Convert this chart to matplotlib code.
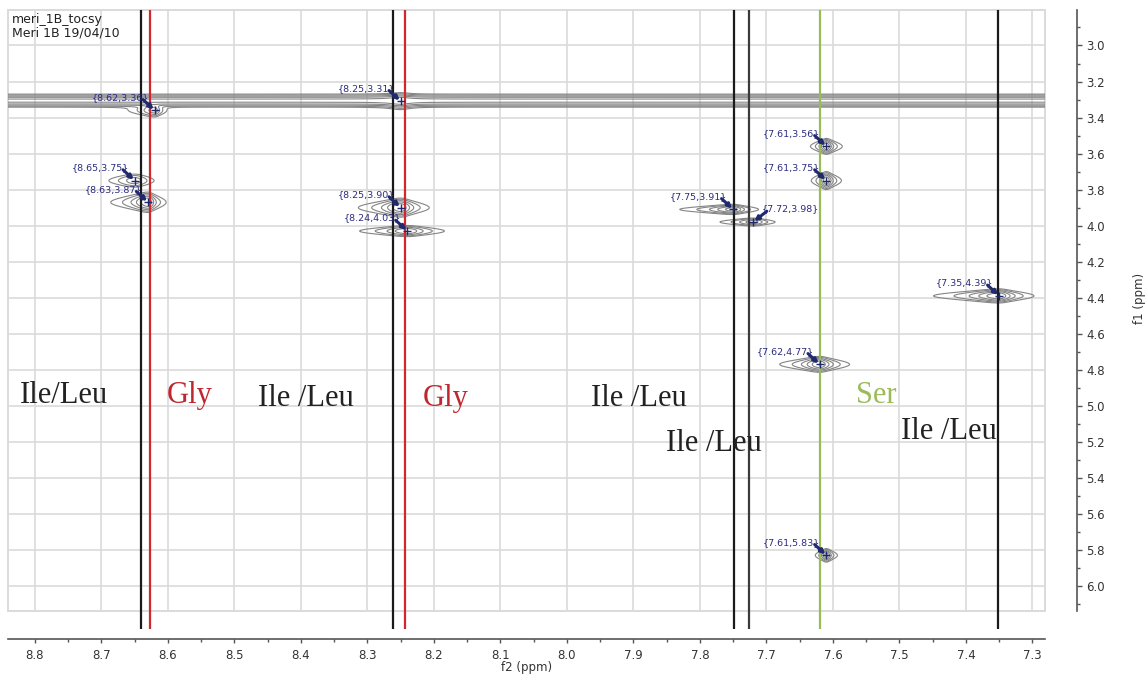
import numpy as np
import matplotlib
matplotlib.use("Agg")
import matplotlib.pyplot as plt
from matplotlib.patches import Rectangle
from matplotlib.ticker import MultipleLocator, FormatStrFormatter

# ---- cross peaks: (f2, f1) in ppm with relative intensity ----
peak_f2 = [8.62, 8.65, 8.63, 8.25, 8.25, 8.24, 7.75, 7.72, 7.61, 7.61, 7.35, 7.62, 7.61]
peak_f1 = [3.36, 3.75, 3.87, 3.31, 3.90, 4.03, 3.91, 3.98, 3.56, 3.75, 4.39, 4.77, 5.83]
peak_amp = [0.5, 0.3, 1.0, 0.4, 1.0, 0.6, 0.8, 0.5, 1.0, 1.0, 1.0, 1.0, 0.8]
# line widths (ppm): f2 downfield half, f2 upfield half, f1
width_f2_down = [0.013, 0.0174, 0.0128, 0.016, 0.0145, 0.0217, 0.0207, 0.0167,
                 0.0055, 0.0052, 0.0227, 0.0138, 0.0043]
width_f2_up = [0.006, 0.013, 0.0062, 0.013, 0.0097, 0.0168, 0.0098, 0.011,
               0.0055, 0.0052, 0.012, 0.0103, 0.0043]
width_f1 = [0.017, 0.019, 0.023, 0.022, 0.0216, 0.0138, 0.012, 0.0103,
            0.018, 0.0204, 0.016, 0.018, 0.016]
label_side = ["left"] * 7 + ["right"] + ["left"] * 5

# t1 noise ridge running across the whole f2 range
ridge_f1 = 3.306
ridge_amp = 0.7
ridge_width = 0.0157

# amide assignment lines
assign_f2 = [8.641, 8.627, 8.261, 8.244, 7.749, 7.726, 7.620, 7.352]
assign_color = ["#1a1a1a", "#d0282e", "#1a1a1a", "#d0282e",
                "#1a1a1a", "#3a3a3a", "#9bbb59", "#1a1a1a"]

# residue labels
residue_text = ["Ile/Leu", "Gly", "Ile /Leu", "Gly", "Ile /Leu", "Ile /Leu", "Ser", "Ile /Leu"]
residue_f2 = [8.756, 8.568, 8.392, 8.183, 7.892, 7.779, 7.535, 7.426]
residue_f1 = [4.983, 4.983, 4.999, 4.999, 4.999, 5.250, 4.983, 5.183]
residue_color = ["#222222", "#c0272d", "#222222", "#c0272d",
                 "#222222", "#222222", "#9bbb59", "#222222"]

contour_levels = [0.05, 0.1, 0.2, 0.35, 0.6]

# ---- synthetic 2D spectrum built from the peak list ----
f2 = np.linspace(7.26, 8.86, 1700)
f1 = np.linspace(2.78, 6.16, 1100)
X, Y = np.meshgrid(f2, f1)
Z = ridge_amp * np.exp(-0.5 * ((Y - ridge_f1) / ridge_width) ** 2)
for x0, y0, a, wd, wu, s in zip(peak_f2, peak_f1, peak_amp,
                                width_f2_down, width_f2_up, width_f1):
    d = X - x0
    w = np.where(d > 0, wd, wu)
    Z += a / (1.0 + (d / w) ** 2) * np.exp(-0.5 * ((Y - y0) / s) ** 2)

# ---- figure ----
W, H = 1148, 675
fig = plt.figure(figsize=(W / 100, H / 100), dpi=100)
ax = fig.add_axes([8 / W, (H - 611) / H, 1037 / W, 601 / H])

ax.set_xlim(8.8406, 7.2812)
ax.set_ylim(6.139, 2.803)

ax.contour(X, Y, Z, levels=contour_levels, colors="#858585",
           linewidths=0.8, zorder=2)

# grid and light frame
ax.xaxis.set_major_locator(MultipleLocator(0.1))
ax.xaxis.set_minor_locator(MultipleLocator(0.05))
ax.yaxis.set_major_locator(MultipleLocator(0.2))
ax.yaxis.set_minor_locator(MultipleLocator(0.1))
ax.xaxis.set_major_formatter(FormatStrFormatter("%.1f"))
ax.yaxis.set_major_formatter(FormatStrFormatter("%.1f"))
ax.grid(True, which="major", color="#dadada", lw=1.2, zorder=0)
ax.set_axisbelow(True)
ax.add_patch(Rectangle((0, 0), 1, 1, transform=ax.transAxes, fill=False,
                       edgecolor="#dadada", lw=1.4, zorder=0.5, clip_on=False))

# spines detached from the plotting box
for side in ("left", "top"):
    ax.spines[side].set_visible(False)
ax.spines["bottom"].set_position(("outward", 20.5))
ax.spines["right"].set_position(("outward", 23))
for side in ("bottom", "right"):
    ax.spines[side].set_color("#555555")
    ax.spines[side].set_linewidth(1.2)

ax.yaxis.tick_right()
ax.yaxis.set_label_position("right")
ax.tick_params(axis="both", which="both", direction="out", color="#555555",
               labelcolor="#333333", labelsize=8.5, width=1.0)
ax.tick_params(axis="x", which="major", length=3.2, pad=4)
ax.tick_params(axis="x", which="minor", length=2.2)
ax.tick_params(axis="y", which="major", length=3.6, pad=3)
ax.tick_params(axis="y", which="minor", length=2.4)
ax.set_xlabel("f2 (ppm)", fontsize=8.5, color="#333333", labelpad=-1)
ax.set_ylabel("f1 (ppm)", fontsize=8.5, color="#333333")
ax.yaxis.set_label_coords(1.0 + (1133 - 1045) / 1037, 0.52)

# assignment lines, running past the box down toward the axis
xt = ax.get_xaxis_transform()
for x0, c in zip(assign_f2, assign_color):
    ax.plot([x0, x0], [1.0, -0.030], transform=xt, color=c, lw=1.6,
            clip_on=False, zorder=3, solid_capstyle="butt")

# peak markers and coordinate labels
navy_text = "#2b2b80"
navy_arrow = "#1f2a6e"
for x0, y0, side in zip(peak_f2, peak_f1, label_side):
    ax.plot(x0, y0, "+", color=navy_arrow, ms=6, mew=1.0, zorder=5)
    if side == "left":
        off, ha, rel = (-4.3, 9.4), "right", (0.9, 0.25)
    else:
        off, ha, rel = (6.5, 9.4), "left", (0.08, 0.25)
    ax.annotate("{%.2f,%.2f}" % (x0, y0), xy=(x0, y0), xytext=off,
                textcoords="offset points", ha=ha, va="center",
                fontsize=6.8, color=navy_text, zorder=6,
                arrowprops=dict(arrowstyle="-|>", color=navy_arrow, lw=2.2,
                                mutation_scale=6, shrinkA=0, shrinkB=1,
                                patchA=None, relpos=rel))

# residue names
for t, x0, y0, c in zip(residue_text, residue_f2, residue_f1, residue_color):
    ax.text(x0, y0, t, ha="center", va="baseline", fontsize=22,
            family="Liberation Serif", color=c, zorder=7)

# experiment title
fig.text(12 / W, 1 - 19 / H, "meri_1B_tocsy", fontsize=9, color="#222222",
         va="center", ha="left")
fig.text(12 / W, 1 - 33.5 / H, "Meri 1B 19/04/10", fontsize=9, color="#222222",
         va="center", ha="left")

fig.savefig("out.png", dpi=100)
